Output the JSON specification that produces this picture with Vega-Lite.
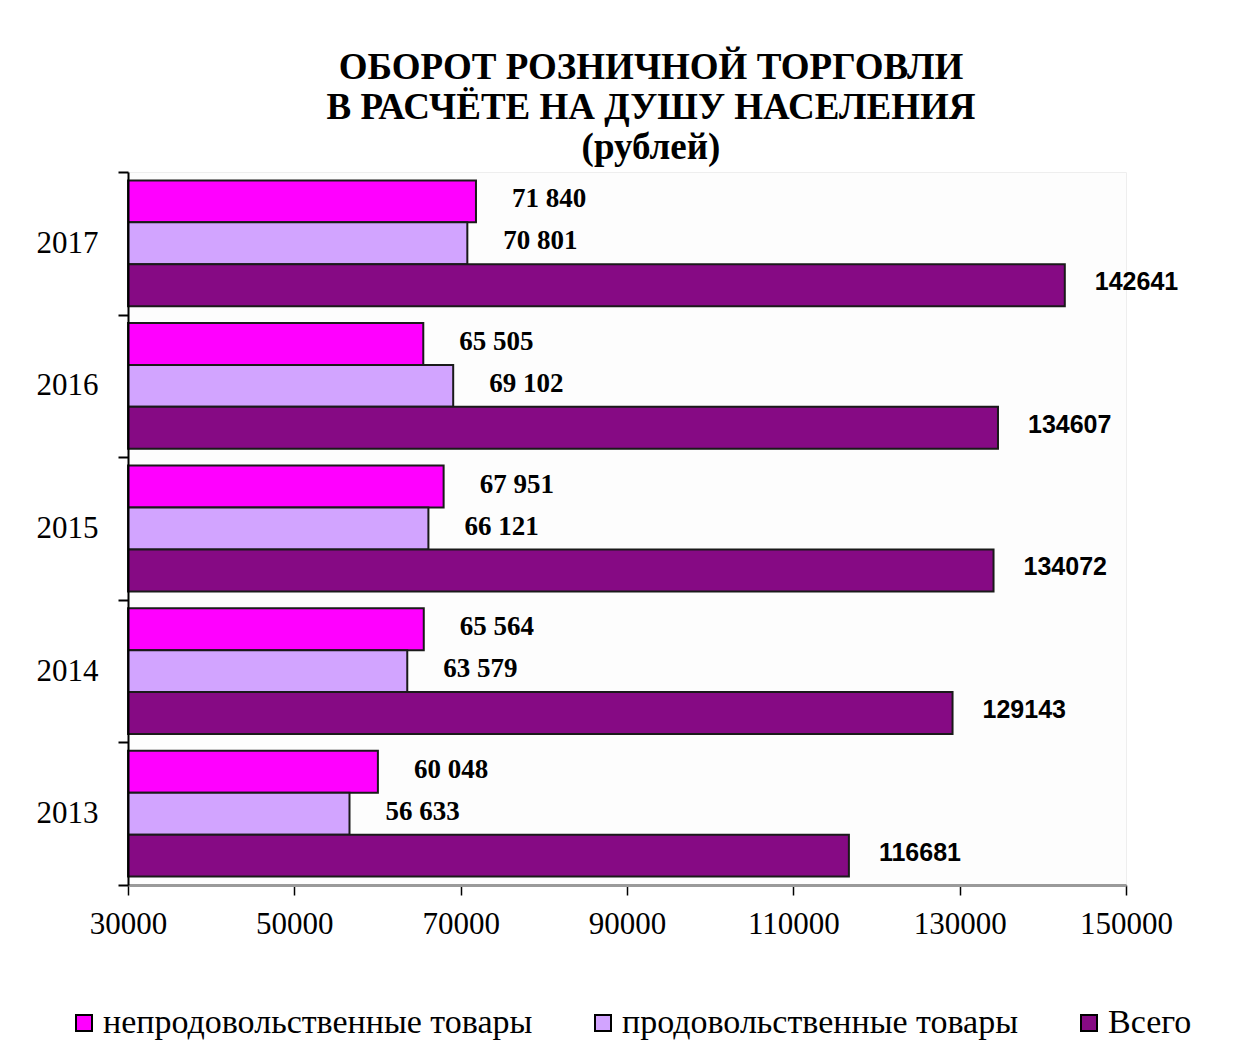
{
  "$schema": "https://vega.github.io/schema/vega-lite/v6.json",
  "width": 998,
  "height": 713,
  "autosize": {"type": "none"},
  "padding": {"left": 128, "top": 172, "right": 112, "bottom": 179},
  "background": "white",
  "config": {
    "locale": {"number": {"decimal": ",", "thousands": " ", "grouping": [3], "currency": ["", ""]}},
    "view": {"stroke": "#eeeeee", "fill": "#fdfdfd"}
  },
  "title": {
    "text": ["ОБОРОТ РОЗНИЧНОЙ ТОРГОВЛИ", "В РАСЧЁТЕ НА ДУШУ НАСЕЛЕНИЯ"],
    "subtitle": "(рублей)",
    "font": "Liberation Serif",
    "fontSize": 37,
    "fontWeight": "bold",
    "lineHeight": 40,
    "subtitleFont": "Liberation Serif",
    "subtitleFontSize": 37,
    "subtitleFontWeight": "bold",
    "subtitleColor": "black",
    "subtitlePadding": 3,
    "anchor": "middle",
    "dx": 24,
    "offset": -11,
    "color": "black"
  },
  "data": {
    "values": [
      {"year": "2017", "series": "непродовольственные товары", "value": 71840},
      {"year": "2017", "series": "продовольственные товары", "value": 70801},
      {"year": "2017", "series": "Всего", "value": 142641},
      {"year": "2016", "series": "непродовольственные товары", "value": 65505},
      {"year": "2016", "series": "продовольственные товары", "value": 69102},
      {"year": "2016", "series": "Всего", "value": 134607},
      {"year": "2015", "series": "непродовольственные товары", "value": 67951},
      {"year": "2015", "series": "продовольственные товары", "value": 66121},
      {"year": "2015", "series": "Всего", "value": 134072},
      {"year": "2014", "series": "непродовольственные товары", "value": 65564},
      {"year": "2014", "series": "продовольственные товары", "value": 63579},
      {"year": "2014", "series": "Всего", "value": 129143},
      {"year": "2013", "series": "непродовольственные товары", "value": 60048},
      {"year": "2013", "series": "продовольственные товары", "value": 56633},
      {"year": "2013", "series": "Всего", "value": 116681}
    ]
  },
  "encoding": {
    "y": {
      "field": "year",
      "type": "nominal",
      "sort": "descending",
      "scale": {"paddingInner": 0, "paddingOuter": 0},
      "axis": {
        "title": null,
        "tickBand": "extent",
        "labelFont": "Liberation Serif",
        "labelFontSize": 31,
        "labelColor": "black",
        "labelPadding": 20,
        "tickSize": 10,
        "tickColor": "black",
        "tickWidth": 2,
        "domainColor": "black",
        "domainWidth": 2,
        "zindex": 1
      }
    },
    "yOffset": {
      "field": "series",
      "type": "nominal",
      "sort": ["непродовольственные товары", "продовольственные товары", "Всего"],
      "scale": {"paddingInner": 0, "paddingOuter": 0.2}
    }
  },
  "layer": [
    {
      "mark": {"type": "bar", "stroke": "#1a1a1a", "strokeWidth": 2},
      "encoding": {
        "x": {
          "field": "value",
          "type": "quantitative",
          "scale": {"domain": [30000, 150000], "zero": false, "nice": false, "clamp": true},
          "axis": {
            "title": null,
            "values": [30000, 50000, 70000, 90000, 110000, 130000, 150000],
            "format": "d",
            "grid": false,
            "labelFlush": false,
            "labelOverlap": false,
            "labelFont": "Liberation Serif",
            "labelFontSize": 31,
            "labelColor": "black",
            "labelPadding": 14,
            "tickSize": 10,
            "tickColor": "black",
            "tickWidth": 1.5,
            "domainColor": "#9a9a9a",
            "domainWidth": 3
          }
        },
        "color": {
          "field": "series",
          "type": "nominal",
          "scale": {
            "domain": ["непродовольственные товары", "продовольственные товары", "Всего"],
            "range": ["#FF00FF", "#D2A4FF", "#860A84"]
          },
          "legend": {
            "title": null,
            "orient": "none",
            "direction": "horizontal",
            "legendX": -61,
            "legendY": 834,
            "padding": 0,
            "symbolType": "square",
            "symbolSize": 256,
            "symbolStrokeColor": "black",
            "symbolStrokeWidth": 2,
            "symbolOpacity": 1,
            "labelFont": "Liberation Serif",
            "labelFontSize": 34,
            "labelColor": "black",
            "labelOffset": 2,
            "columnPadding": 53,
            "labelLimit": 700
          }
        }
      }
    },
    {
      "transform": [{"filter": "datum.series !== 'Всего'"}],
      "mark": {"type": "text", "align": "left", "baseline": "middle", "dx": 36, "dy": -2, "font": "Liberation Serif", "fontSize": 27, "fontWeight": "bold", "color": "black"},
      "encoding": {
        "x": {"field": "value", "type": "quantitative"},
        "text": {"field": "value", "type": "quantitative", "format": ",d"}
      }
    },
    {
      "transform": [{"filter": "datum.series === 'Всего'"}],
      "mark": {"type": "text", "align": "left", "baseline": "middle", "dx": 30, "dy": -3, "font": "Liberation Sans", "fontSize": 25, "fontWeight": "bold", "color": "black"},
      "encoding": {
        "x": {"field": "value", "type": "quantitative"},
        "text": {"field": "value", "type": "quantitative", "format": "d"}
      }
    }
  ]
}
